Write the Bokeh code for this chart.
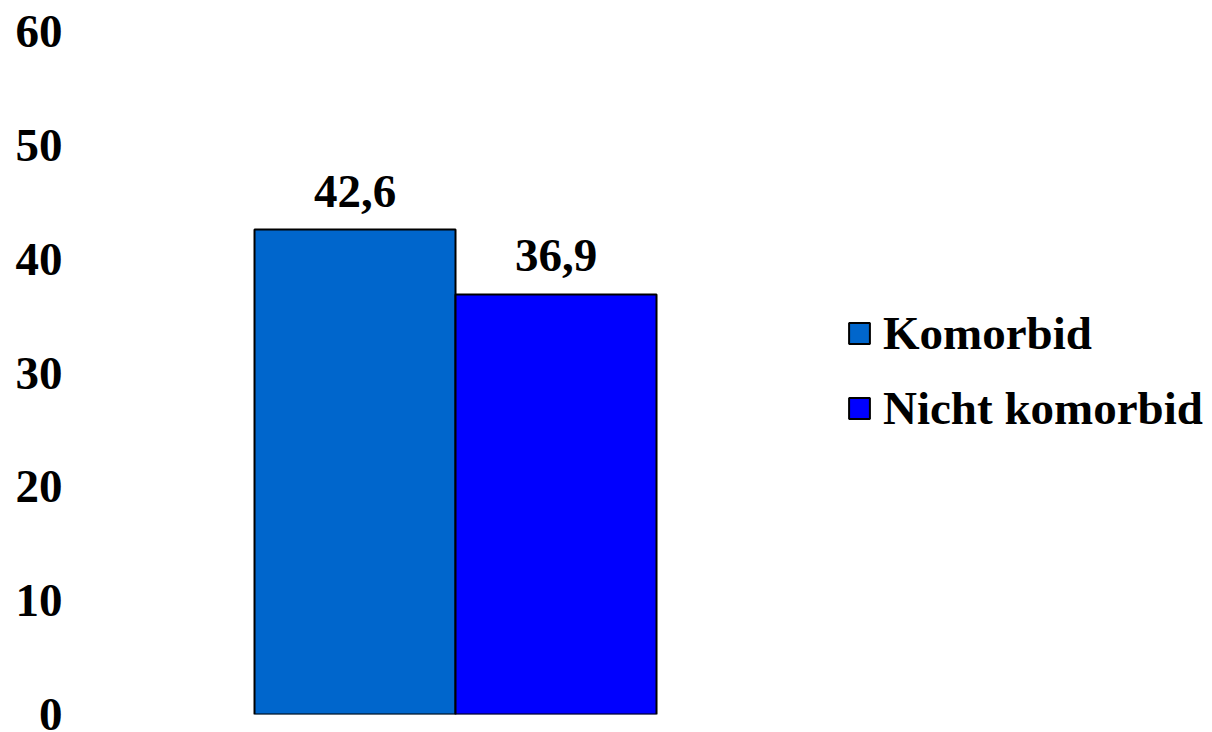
from bokeh.plotting import figure
from bokeh.models import Range1d, FixedTicker, Legend, LegendItem, ColumnDataSource
from bokeh.embed import file_html
from bokeh.resources import INLINE

categories = ["Komorbid", "Nicht komorbid"]
values = [42.6, 36.9]
colors = ["#0066CC", "#0000FF"]
y_ticks = [0, 10, 20, 30, 40, 50, 60]

FONT = "Liberation Serif"
FS = "47px"

xs = [1 + i for i in range(len(categories))]
labels = [f"{v:.1f}".replace(".", ",") for v in values]
src = ColumnDataSource(dict(x=xs, top=values, color=colors, label=labels, cat=categories))

p = figure(width=1212, height=732, output_backend="svg", toolbar_location=None,
           x_range=Range1d(-0.4055, 5.266), y_range=Range1d(0, 60),
           x_axis_location=None, min_border_left=72, min_border_right=0,
           min_border_top=31, min_border_bottom=18)
p.outline_line_color = None
p.grid.visible = False
p.background_fill_color = "white"
p.border_fill_color = "white"

r = p.vbar(x="x", top="top", bottom=0, width=1.0, fill_color="color",
           line_color="black", line_width=2, source=src)

p.text(x="x", y="top", text="label", source=src, text_align="center",
       text_baseline="bottom", y_offset=-23, text_font=FONT,
       text_font_size=FS, text_font_style="bold", text_color="black")

ax = p.yaxis[0]
ax.ticker = FixedTicker(ticks=y_ticks)
ax.axis_line_color = None
ax.major_tick_line_color = None
ax.minor_tick_line_color = None
ax.major_tick_out = 0
ax.major_tick_in = 0
ax.major_label_standoff = 10
ax.major_label_text_font = FONT
ax.major_label_text_font_size = FS
ax.major_label_text_font_style = "bold"
ax.major_label_text_color = "black"

items = [LegendItem(label=categories[i], renderers=[r], index=i) for i in range(len(categories))]
legend = Legend(items=items, location=(774, 279))
legend.glyph_width = 26
legend.glyph_height = 26
legend.label_standoff = 11
legend.label_text_font = FONT
legend.label_text_font_size = FS
legend.label_text_font_style = "bold"
legend.label_text_color = "black"
legend.padding = 0
legend.margin = 0
legend.spacing = 21
legend.border_line_color = None
legend.background_fill_alpha = 0
p.add_layout(legend)

open("out.html", "w").write(file_html(p, INLINE))
